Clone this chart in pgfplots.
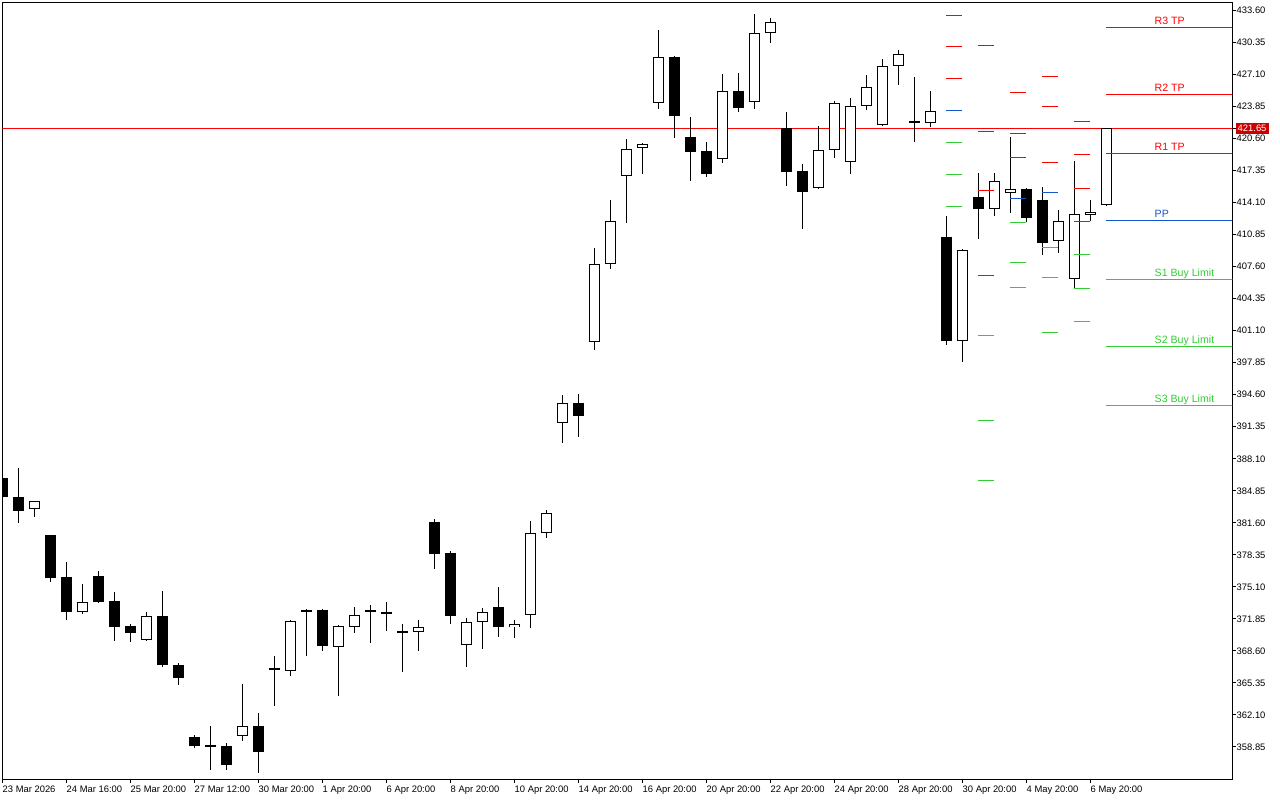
\documentclass[border=0pt]{standalone}
\usepackage{fontspec}
\setmainfont{Liberation Sans}
\usepackage{pgfplots}
\usepackage{pgfplotstable}
\pgfplotsset{compat=1.18}
\definecolor{lvred}{RGB}{255,0,0}
\definecolor{lvblue}{RGB}{20,85,210}
\definecolor{lvgreen}{RGB}{50,205,50}
\definecolor{pxred}{RGB}{205,0,0}

\pgfplotstableread{
x o h l c
0 386.12 386.25 384.22 384.26
1 384.19 387.14 381.62 382.83
2 382.98 383.85 382.22 383.79
3 380.34 380.38 375.63 376.03
4 376.10 377.60 371.77 372.58
5 372.58 375.36 372.38 373.54
6 376.18 376.71 373.47 373.60
7 373.64 374.55 369.61 371.06
8 371.10 371.30 369.54 370.45
9 369.74 372.52 369.61 372.12
10 372.15 374.68 367.00 367.20
11 367.14 367.35 365.17 365.89
12 359.84 360.07 358.78 358.98
13 359.05 360.98 356.52 358.85
14 358.95 359.23 356.52 357.06
15 360.00 365.21 359.49 360.95
16 360.95 362.27 356.24 358.37
17 366.90 368.09 363.01 366.70
18 366.59 371.74 366.09 371.64
19 372.79 372.83 368.09 372.58
20 372.76 372.83 368.59 369.13
21 369.03 371.26 364.03 371.13
22 371.06 373.03 370.45 372.25
23 372.79 373.26 369.44 372.58
24 372.52 373.57 370.66 372.42
25 370.66 371.34 366.49 370.45
26 370.55 371.74 368.59 371.00
27 381.69 381.99 376.95 378.47
28 378.54 378.74 371.37 372.18
29 369.17 371.94 367.00 371.51
30 371.51 372.96 368.83 372.52
31 373.06 375.09 370.05 371.00
32 371.00 371.74 369.94 371.30
33 372.22 381.79 370.96 380.54
34 380.54 382.91 380.09 382.57
35 391.70 394.55 389.74 393.73
36 393.73 394.65 390.34 392.48
37 399.93 409.47 399.14 407.84
38 407.84 414.37 407.39 412.21
39 416.77 420.53 412.06 419.51
40 419.61 420.12 417.04 420.02
41 424.18 431.62 423.63 428.85
42 428.85 428.95 420.69 422.92
43 420.76 422.79 416.30 419.27
44 419.31 420.22 416.73 417.04
45 418.50 427.16 418.15 425.40
46 425.40 427.26 423.33 423.73
47 424.28 433.21 423.63 431.29
48 431.29 432.81 430.33 432.40
49 421.64 423.27 415.82 417.24
50 417.28 418.02 411.45 415.21
51 415.56 421.85 415.50 419.41
52 419.41 424.42 418.66 424.18
53 418.19 424.69 417.04 423.88
54 423.88 427.05 423.53 425.81
55 421.95 428.65 421.90 427.94
56 427.94 429.56 426.07 429.15
57 422.35 426.82 420.28 422.15
58 422.15 425.43 421.81 423.37
59 410.58 412.74 399.68 400.09
60 400.09 409.39 397.96 409.26
61 414.64 417.11 410.44 413.48
62 413.48 417.11 412.77 416.27
63 415.05 420.76 413.08 415.51
64 415.51 415.55 412.10 412.57
65 414.34 415.69 408.82 410.03
66 410.18 413.32 409.02 412.21
67 406.32 418.30 405.44 412.92
68 412.88 414.34 412.21 413.15
69 413.83 421.65 413.80 421.65
}\candles

\begin{document}
\begin{tikzpicture}
\useasboundingbox (-1.15pt,-10.5pt) rectangle (638.85pt,389.5pt);
\begin{axis}[
  at={(0pt,0pt)}, anchor=south west,
  scale only axis, width=615pt, height=388.35pt,
  xmin=0, xmax=76.875, ymin=355.60, ymax=434.43,
  axis line style={line width=0.5pt, black},
  tick align=outside, major tick length=2pt,
  tick style={line width=0.5pt, black},
  xtick pos=left, ytick pos=right,
  xticklabel pos=left, yticklabel pos=right,
  clip=true,
  xtick={0,4,8,12,16,20,24,28,32,36,40,44,48,52,56,60,64,68},
  xticklabels={23 Mar 2026, 24 Mar 16:00, 25 Mar 20:00, 27 Mar 12:00, 30 Mar 20:00, 1 Apr 20:00, 6 Apr 20:00, 8 Apr 20:00, 10 Apr 20:00, 14 Apr 20:00, 16 Apr 20:00, 20 Apr 20:00, 22 Apr 20:00, 24 Apr 20:00, 28 Apr 20:00, 30 Apr 20:00, 4 May 20:00, 6 May 20:00},
  ytick={358.85,362.10,365.35,368.60,371.85,375.10,378.35,381.60,384.85,388.10,391.35,394.60,397.85,401.10,404.35,407.60,410.85,414.10,417.35,420.60,423.85,427.10,430.35,433.60},
  scaled y ticks=false,
  tick label style={font=\fontsize{4.7}{5}\selectfont, black},
  yticklabel style={/pgf/number format/.cd, fixed, fixed zerofill, precision=2, assume math mode=true, /tikz/.cd, anchor=west, inner sep=0pt},
  xticklabel style={anchor=north west, inner sep=0pt, yshift=-1.2pt},
  extra y ticks={421.65},
  extra y tick style={yticklabel style={fill=pxred, text=white, inner sep=1.1pt, xshift=-0.6pt}},
]
% current price line
\addplot[lvred, line width=0.5pt, forget plot] coordinates {(-1,421.65) (78,421.65)};
% wicks
\addplot[draw=none, no markers, forget plot,
  error bars/.cd, y dir=both, y explicit, error mark=none,
  error bar style={draw=black, solid, line width=0.6pt}]
  table[x=x, y expr={(\thisrow{h}+\thisrow{l})/2}, y error expr={(\thisrow{h}-\thisrow{l})/2}] {\candles};
% bodies (outer)
\addplot[draw=none, no markers, forget plot,
  error bars/.cd, y dir=both, y explicit, error mark=none,
  error bar style={draw=black, solid, line width=5.5pt}]
  table[x=x, y expr={(\thisrow{o}+\thisrow{c})/2}, y error expr={abs(\thisrow{c}-\thisrow{o})/2}] {\candles};
% bodies (inner white for bullish)
\addplot[draw=none, no markers, forget plot,
  error bars/.cd, y dir=both, y explicit, error mark=none,
  error bar style={draw=white, solid, line width=4.4pt}]
  table[x=x, y expr={(\thisrow{o}+\thisrow{c})/2}, y error expr={max((\thisrow{c}-\thisrow{o})/2-0.1015,0)}] {\candles};
% pivot levels
\addplot[lvred, line width=0.55pt, unbounded coords=jump, forget plot] coordinates {
 (59,433.11) (60,433.11) (59,nan) (59,429.97) (60,429.97) (59,nan) (59,426.72) (60,426.72) (59,nan)
 (61,430.07) (62,430.07) (61,nan) (61,421.34) (62,421.34) (61,nan) (61,415.35) (62,415.35) (61,nan)
 (63,425.30) (64,425.30) (63,nan) (63,421.14) (64,421.14) (63,nan) (63,418.70) (64,418.70) (63,nan)
 (65,426.92) (66,426.92) (65,nan) (65,423.88) (66,423.88) (65,nan) (65,418.19) (66,418.19) (65,nan)
 (67,422.35) (68,422.35) (67,nan) (67,419.01) (68,419.01) (67,nan) (67,415.56) (68,415.56) (67,nan)
 (69,431.90) (78,431.90) (69,nan) (69,425.10) (78,425.10) (69,nan) (69,419.11) (78,419.11)};
\addplot[lvblue, line width=0.55pt, unbounded coords=jump, forget plot] coordinates {
 (59,423.47) (60,423.47) (59,nan) (61,406.73) (62,406.73) (61,nan) (63,414.54) (64,414.54) (63,nan)
 (65,415.15) (66,415.15) (65,nan) (67,412.21) (68,412.21) (67,nan) (69,412.31) (78,412.31)};
\addplot[lvgreen, line width=0.55pt, unbounded coords=jump, forget plot] coordinates {
 (59,420.22) (60,420.22) (59,nan) (59,416.98) (60,416.98) (59,nan) (59,413.73) (60,413.73) (59,nan)
 (61,400.64) (62,400.64) (61,nan) (61,392.01) (62,392.01) (61,nan) (61,385.92) (62,385.92) (61,nan)
 (63,412.10) (64,412.10) (63,nan) (63,408.04) (64,408.04) (63,nan) (63,405.51) (64,405.51) (63,nan)
 (65,409.57) (66,409.57) (65,nan) (65,406.52) (66,406.52) (65,nan) (65,400.94) (66,400.94) (65,nan)
 (67,408.86) (68,408.86) (67,nan) (67,405.41) (68,405.41) (67,nan) (67,402.04) (68,402.04) (67,nan)
 (69,406.32) (78,406.32) (69,nan) (69,399.52) (78,399.52) (69,nan) (69,393.53) (78,393.53)};
% level labels
\begin{scope}[every node/.style={anchor=base west, inner sep=0pt, yshift=1.5pt, font=\fontsize{5.3}{6}\selectfont}]
\node[text=lvred] at (axis cs:72,431.90) {R3 TP};
\node[text=lvred] at (axis cs:72,425.10) {R2 TP};
\node[text=lvred] at (axis cs:72,419.11) {R1 TP};
\node[text=lvblue] at (axis cs:72,412.31) {PP};
\node[text=lvgreen] at (axis cs:72,406.32) {S1 Buy Limit};
\node[text=lvgreen] at (axis cs:72,399.52) {S2 Buy Limit};
\node[text=lvgreen] at (axis cs:72,393.53) {S3 Buy Limit};
\end{scope}
\end{axis}
\end{tikzpicture}
\end{document}
